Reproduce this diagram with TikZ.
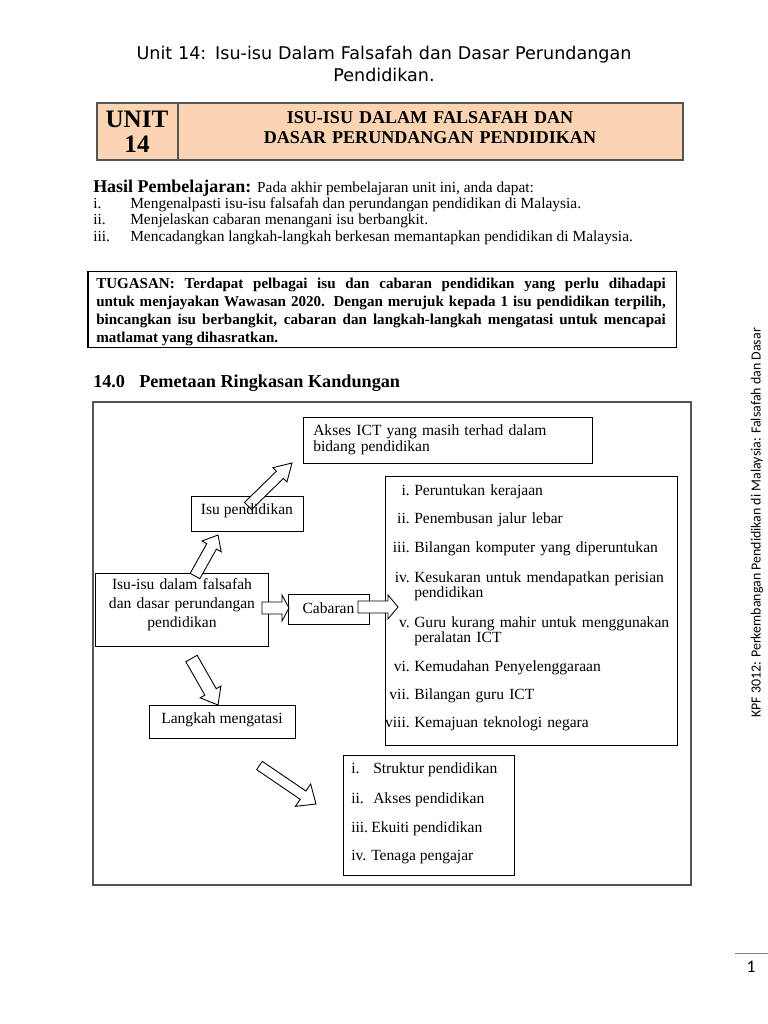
\documentclass[tikz,border=0pt]{standalone}
\usepackage{fontspec}
\setmainfont{Liberation Serif}
\newfontfamily\headfont{DejaVu Sans}
\newfontfamily\sidefont{Carlito}
\usetikzlibrary{calc,fit}
\definecolor{unitfill}{HTML}{FBD4B4}
\definecolor{framegray}{HTML}{555555}

% block arrow: tail, tip, half shaft, half head, head length
\newcommand{\fatarrow}[5]{%
  \coordinate (fa-h) at ($(#2)!#5!(#1)$);
  \draw[fatline] ($(#1)!#3!90:(#2)$) -- ($(fa-h)!#3!90:(#2)$) -- ($(fa-h)!#4!90:(#2)$)
    -- (#2) -- ($(fa-h)!#4!-90:(#2)$) -- ($(fa-h)!#3!-90:(#2)$) -- ($(#1)!#3!-90:(#2)$) -- cycle;
}

\begin{document}
\begin{tikzpicture}[x=0.797pt,y=-0.797pt,
  box/.style={draw,line width=0.7pt,inner sep=0pt},
  fatline/.style={draw,fill=white,line width=0.7pt,line join=miter},
  txt/.style={font=\fontsize{12.4}{12.5}\selectfont,inner sep=0pt}]
\useasboundingbox (0,0) rectangle (768,1024);
% ---------- page head ----------
\node[font=\headfont\fontsize{14}{18.3}\selectfont,text width=500pt,align=center,anchor=base,inner sep=0pt] (title) at (384,59) {Unit 14: Isu-isu Dalam Falsafah dan Dasar Perundangan\\Pendidikan.};
\node[box,draw=framegray,line width=1pt,fill=unitfill,fit={(97,103)(683,160)}] (unitbox) {};
\draw[framegray,line width=0.8pt] (178,103) -- (178,160);
\node[font=\bfseries\fontsize{20}{20.7}\selectfont,text width=60pt,align=center,anchor=base,inner sep=0pt] (unitno) at (137,127) {UNIT\\14};
\node[font=\bfseries\fontsize{14.4}{16}\selectfont,text width=400pt,align=center,anchor=base,inner sep=0pt] (unittitle) at (430,123) {ISU-ISU DALAM FALSAFAH DAN\\DASAR PERUNDANGAN PENDIDIKAN};
% ---------- hasil pembelajaran ----------
\node[anchor=base west,inner sep=0pt] (hasil) at (93,192) {\fontsize{14.3}{15}\selectfont\bfseries Hasil Pembelajaran: \mdseries\fontsize{12.2}{13}\selectfont Pada akhir pembelajaran unit ini, anda dapat:};
\foreach \l/\y/\t in {i./208/Mengenalpasti isu-isu falsafah dan perundangan pendidikan di Malaysia.,
    ii./224/Menjelaskan cabaran menangani isu berbangkit.,
    iii./241/Mencadangkan langkah-langkah berkesan memantapkan pendidikan di Malaysia.} {
  \node[anchor=base west,inner sep=0pt,font=\fontsize{12.3}{13}\selectfont] (hl-\y) at (93,\y) {\l};
  \node[anchor=base west,inner sep=0pt,font=\fontsize{12.3}{13}\selectfont] (ht-\y) at (130,\y) {\t};
}
% ---------- tugasan ----------
\node[box,line width=0.8pt,fit={(88,271)(676,347)}] (tugasbox) {};
\node[anchor=base west,inner sep=0pt,text width=454pt,align=justify,font=\bfseries\fontsize{12}{14.5}\selectfont] (tugas) at (96,288)
  {TUGASAN: Terdapat pelbagai isu dan cabaran pendidikan yang perlu dihadapi\linebreak
   untuk menjayakan Wawasan 2020. Dengan merujuk kepada 1 isu pendidikan terpilih,\linebreak
   bincangkan isu berbangkit, cabaran dan langkah-langkah mengatasi untuk mencapai\linebreak
   matlamat yang dihasratkan.};
\node[anchor=base west,inner sep=0pt,font=\bfseries\fontsize{14.5}{15}\selectfont] (secno) at (93,387) {14.0};
\node[anchor=base west,inner sep=0pt,font=\bfseries\fontsize{14.5}{15}\selectfont] (sectitle) at (139,387) {Pemetaan Ringkasan Kandungan};
% ---------- peta ----------
\draw[framegray,line width=1.4pt] (93,402) rectangle (691,885);
\node[box,fit={(303,417)(592,463)}] (akses) {};
\node[box,fit={(191,496)(303,531)}] (isupend) {};
\node[box,fit={(385,476)(677,745)}] (cabaranlist) {};
\node[box,fit={(95,573)(268,646)}] (isuisu) {};
\node[box,fit={(288,594)(369,624)}] (cabaran) {};
\node[box,fit={(149,705)(295,738)}] (langkah) {};
\node[box,fit={(343,755)(514,875)}] (langkahlist) {};
% block arrows
\coordinate (a1t) at (195,576);   \coordinate (a1h) at (218,535);
\coordinate (a2t) at (248,506);   \coordinate (a2h) at (292,463);
\coordinate (a3t) at (262,608);   \coordinate (a3h) at (289,608);
\coordinate (a4t) at (358,607);   \coordinate (a4h) at (398,607);
\coordinate (a5t) at (191.5,658.5); \coordinate (a5h) at (218,705);
\coordinate (a6t) at (259.5,765.5); \coordinate (a6h) at (316,804);
\fatarrow{a1t}{a1h}{4.4pt}{8.8pt}{10.4pt}
\fatarrow{a2t}{a2h}{4pt}{8pt}{13.5pt}
\fatarrow{a3t}{a3h}{4.8pt}{10.4pt}{5.6pt}
\fatarrow{a4t}{a4h}{4.8pt}{9.6pt}{8pt}
\fatarrow{a5t}{a5h}{5.2pt}{9.5pt}{12pt}
\fatarrow{a6t}{a6h}{4pt}{10.8pt}{12.5pt}
% texts
\node[txt,anchor=base west,text width=225pt,align=left,font=\fontsize{12.4}{13.3}\selectfont] (aksestxt) at (313,435) {Akses ICT yang masih terhad dalam\\bidang pendidikan};
\node[txt,anchor=base] (isupendtxt) at (247,514) {Isu pendidikan};
\node[txt,anchor=base,text width=130pt,align=center,font=\fontsize{12.4}{15.5}\selectfont] (isuisutxt) at (182,589) {Isu-isu dalam falsafah\\dan dasar perundangan\\pendidikan};
\node[txt,anchor=base] (cabarantxt) at (328.5,613) {Cabaran};
\node[txt,anchor=base] (langkahtxt) at (222,723) {Langkah mengatasi};
\foreach \l/\y/\t in {i./495/Peruntukan kerajaan, ii./523/Penembusan jalur lebar,
    iii./552/Bilangan komputer yang diperuntukan,
    iv./582/{Kesukaran untuk mendapatkan perisian\\pendidikan},
    v./627/{Guru kurang mahir untuk menggunakan\\peralatan ICT},
    vi./671/Kemudahan Penyelenggaraan, vii./699/Bilangan guru ICT,
    viii./727/Kemajuan teknologi negara} {
  \node[txt,anchor=base east] (cl-\y) at (410,\y) {\l};
  \node[txt,anchor=base west,text width=205pt,align=left] (ct-\y) at (414,\y) {\t};
}
\foreach \l/\y/\t/\x in {i./773/Struktur pendidikan/373, ii./803/Akses pendidikan/373,
    iii./832/Ekuiti pendidikan/371, iv./860/Tenaga pengajar/371} {
  \node[txt,anchor=base west] (ll-\y) at (351,\y) {\l};
  \node[txt,anchor=base west] (lt-\y) at (\x,\y) {\t};
}
% ---------- margin ----------
\node[rotate=90,inner sep=0pt,font=\sidefont\fontsize{11.1}{12}\selectfont] (side) at (757,523) {KPF 3012: Perkembangan Pendidikan di Malaysia: Falsafah dan Dasar};
\draw[gray,line width=0.8pt] (735,953) -- (768,953);
\node[anchor=base,inner sep=0pt,font=\sidefont\fontsize{14}{16}\selectfont] (pageno) at (751,972) {1};
\end{tikzpicture}
\end{document}
